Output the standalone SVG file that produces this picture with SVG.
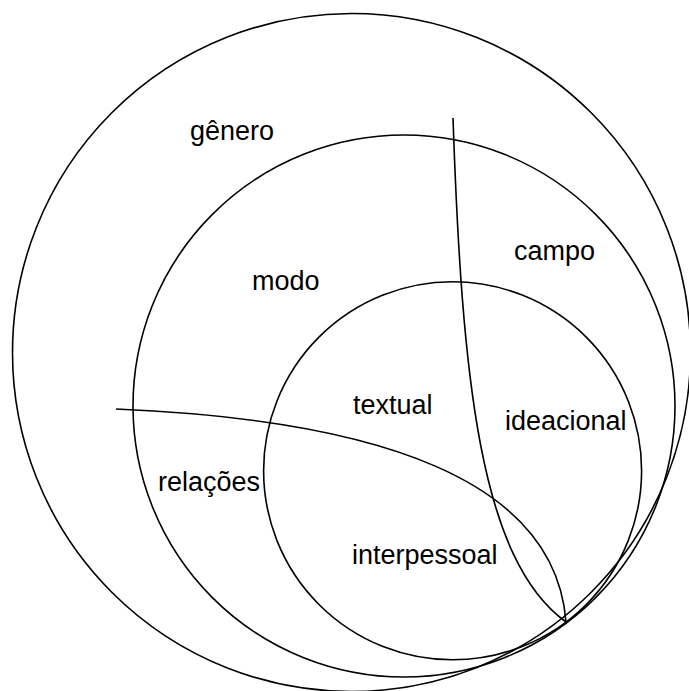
<svg xmlns="http://www.w3.org/2000/svg" width="689" height="691" viewBox="0 0 689 691">
  <style>
    .ring { fill: none; stroke: #000; stroke-width: 1.6; }
    .div { fill: none; stroke: #000; stroke-width: 1.6; }
    .lbl { font-family: "Liberation Sans", Arial, sans-serif; font-size: 27px; fill: #000; }
  </style>
  <rect width="689" height="691" fill="#fff"/>
  <!-- nested strata, all touching at the lower right -->
  <g id="genero">
    <circle class="ring" cx="351.5" cy="352.5" r="339"/>
    <text class="lbl" x="190" y="140">gênero</text>
  </g>
  <g id="registro">
    <circle class="ring" cx="404" cy="406" r="271"/>
    <text class="lbl" x="514" y="260">campo</text>
    <text class="lbl" x="252" y="290">modo</text>
    <text class="lbl" x="158" y="491">relações</text>
  </g>
  <g id="metafuncoes">
    <circle class="ring" cx="452.6" cy="470.8" r="189"/>
    <text class="lbl" x="353" y="414">textual</text>
    <text class="lbl" x="505" y="430">ideacional</text>
    <text class="lbl" x="352" y="564">interpessoal</text>
  </g>
  <!-- dividing curves -->
  <g id="connectors">
    <path class="div" d="M453,118 C462,380 480,560 566,622"/>
    <path class="div" d="M116,409 C380,420 555,480 566,622"/>
  </g>
</svg>
